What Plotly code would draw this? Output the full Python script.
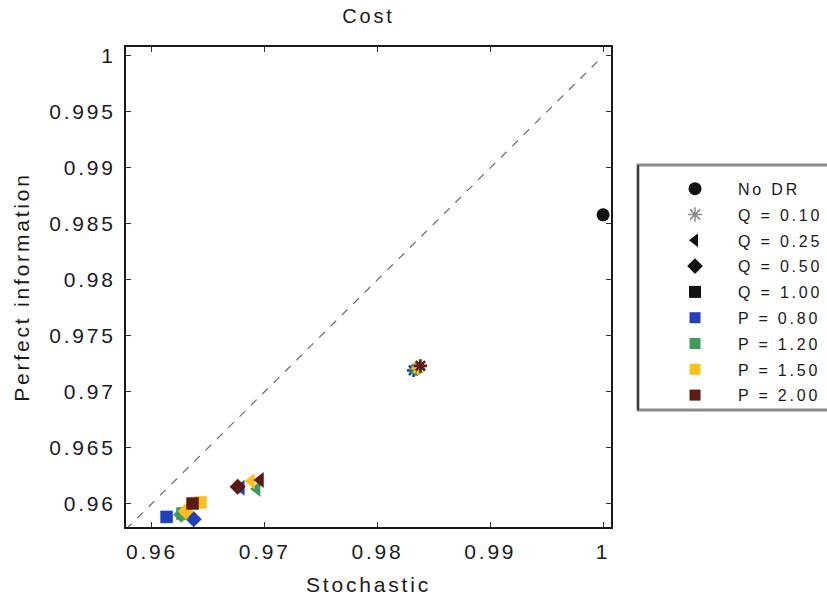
import plotly.graph_objects as go

# ---- legend / category keys ----
q_labels = ["Q = 0.10", "Q = 0.25", "Q = 0.50", "Q = 1.00"]
p_labels = ["P = 0.80", "P = 1.20", "P = 1.50", "P = 2.00"]
q_symbols = ["asterisk-open", "triangle-left", "diamond", "square"]
p_colors = ["#2340b8", "#3f9a5c", "#ffbf1f", "#5b1a12"]

# ---- baseline without demand response ----
no_dr_stochastic = [1.0]
no_dr_perfect = [0.9858]

# ---- normalised cost per scenario, one list per P level, ordered by Q ----
# (Q = 0.10, 0.25, 0.50, 1.00)
stochastic_p080 = [0.9832, 0.9679, 0.9637, 0.9613]
perfect_p080 = [0.9719, 0.9614, 0.9586, 0.9588]
stochastic_p120 = [0.9834, 0.9693, 0.9626, 0.9627]
perfect_p120 = [0.9720, 0.9613, 0.9590, 0.9591]
stochastic_p150 = [0.9836, 0.9688, 0.9630, 0.9643]
perfect_p150 = [0.9721, 0.9620, 0.9593, 0.9601]
stochastic_p200 = [0.9838, 0.9696, 0.9676, 0.9636]
perfect_p200 = [0.9723, 0.9621, 0.9615, 0.9600]

stochastic_by_p = [stochastic_p080, stochastic_p120, stochastic_p150, stochastic_p200]
perfect_by_p = [perfect_p080, perfect_p120, perfect_p150, perfect_p200]

# ---- axes ----
x_range = [0.9577, 1.0007]
y_range = [0.9579, 1.0008]
x_ticks = [0.96, 0.97, 0.98, 0.99, 1.0]
x_ticktext = ["0.96", "0.97", "0.98", "0.99", "1"]
y_ticks = [0.96, 0.965, 0.97, 0.975, 0.98, 0.985, 0.99, 0.995, 1.0]
y_ticktext = ["0.96", "0.965", "0.97", "0.975", "0.98", "0.985", "0.99", "0.995", "1"]
diag_ends = [0.9577, 1.0]

FONT = "Liberation Sans, Arial, sans-serif"
INK = "#1a1a1a"

fig = go.Figure()

# equal-cost reference line
fig.add_trace(go.Scatter(
    x=diag_ends, y=diag_ends, mode="lines",
    line=dict(color="#6a6a6a", width=1.2, dash="8px,8px"),
    showlegend=False, hoverinfo="skip",
))

# scenario points: colour = P level, symbol = Q level
for pi, (xs, ys) in enumerate(zip(stochastic_by_p, perfect_by_p)):
    fig.add_trace(go.Scatter(
        x=xs, y=ys, mode="markers",
        marker=dict(
            symbol=q_symbols,
            size=[11, 13, 12, 12],
            color=p_colors[pi],
            opacity=1,
            line=dict(color=p_colors[pi], width=[2.6, 0.5, 0.5, 0.5]),
        ),
        showlegend=False,
        name=p_labels[pi],
    ))

# No DR baseline
fig.add_trace(go.Scatter(
    x=no_dr_stochastic, y=no_dr_perfect, mode="markers",
    marker=dict(symbol="circle", size=13, color="#111111", opacity=1),
    name="No DR", legendgroup="nodr",
))

# legend keys for Q (symbols) and P (colours)
q_key_colors = ["#8a8a8a", "#111111", "#111111", "#111111"]
for qi, lab in enumerate(q_labels):
    fig.add_trace(go.Scatter(
        x=[None], y=[None], mode="markers",
        marker=dict(symbol=q_symbols[qi], size=12, color=q_key_colors[qi],
                    line=dict(color=q_key_colors[qi], width=1.5 if qi == 0 else 0)),
        name=lab, legendgroup="q%d" % qi,
    ))
for pi, lab in enumerate(p_labels):
    fig.add_trace(go.Scatter(
        x=[None], y=[None], mode="markers",
        marker=dict(symbol="square", size=11, color=p_colors[pi]),
        name=lab, legendgroup="p%d" % pi,
    ))

axis_common = dict(
    showgrid=False, zeroline=False, showline=True, mirror="ticks",
    linecolor="#1a1a1a", linewidth=2, ticks="inside", ticklen=5,
    tickcolor="#333333", tickwidth=1, automargin=False,
    tickfont=dict(family=FONT, size=21, color=INK),
)

fig.update_layout(
    width=827, height=596,
    margin=dict(l=126, r=216, t=47, b=69, autoexpand=False),
    paper_bgcolor="white", plot_bgcolor="white",
    title=dict(text="Cost", x=0.4456, xanchor="center", y=0.985, yanchor="top",
               font=dict(family=FONT, size=20, color=INK)),
    xaxis=dict(range=x_range, tickvals=x_ticks, ticktext=x_ticktext,
               ticklabelstandoff=5,
               title=dict(text="Stochastic", standoff=21,
                          font=dict(family=FONT, size=21, color=INK)),
               **axis_common),
    yaxis=dict(range=y_range, tickvals=y_ticks, ticktext=y_ticktext,
               ticklabelstandoff=4,
               title=dict(text="Perfect information", standoff=28,
                          font=dict(family=FONT, size=21, color=INK)),
               **axis_common),
    legend=dict(
        x=1.0557, xanchor="left", y=0.740, yanchor="top",
        bgcolor="rgba(0,0,0,0)", borderwidth=0,
        font=dict(family=FONT, size=16, color=INK),
        itemwidth=76, indentation=14, tracegroupgap=2,
        itemclick=False, itemdoubleclick=False,
    ),
    shapes=[
        dict(type="rect", xref="paper", yref="paper", layer="below",
             x0=1.0557, x1=1.48, y0=0.244, y1=0.754,
             line=dict(color="#8c8c8c", width=3), fillcolor="white"),
        dict(type="line", xref="paper", yref="paper", layer="below",
             x0=1.0557, x1=1.0557, y0=0.244, y1=0.754,
             line=dict(color="#222222", width=1.5)),
    ],
    showlegend=True,
)

# wide glyph spacing on all chart text; let legend labels run past the
# auto-sized legend box (the frame is drawn as a shape)
spacing_js = (
    "document.querySelectorAll('.main-svg text').forEach(function(t){"
    "t.style.letterSpacing='2.8px';});"
    "document.querySelectorAll('.legend .scrollbox').forEach(function(g){"
    "g.removeAttribute('clip-path');});"
)
fig.write_html("out.html", post_script=spacing_js)
